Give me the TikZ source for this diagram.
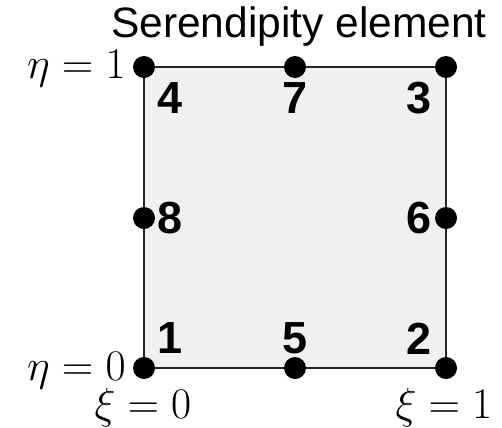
\documentclass[tikz,border=0pt]{standalone}
\usepackage[no-math]{fontspec}
\newfontfamily\helv{Liberation Sans}
\usetikzlibrary{positioning, backgrounds}

\begin{document}
\begin{tikzpicture}[
  x=0.02cm, y=-0.02cm,
  dot/.style={circle, fill=black, inner sep=0pt, minimum size=0.44cm},
  num/.style={font=\helv\bfseries\fontsize{25.6}{30}\selectfont, inner sep=0pt},
  coordlbl/.style={font=\fontsize{26}{30}\selectfont, inner sep=0pt},
  ttl/.style={font=\helv\fontsize{24.2}{29}\selectfont, inner sep=0pt},
  elem/.style={fill=black!6, draw=black!85, line width=0.6pt},
  node distance=5mm, on grid,
]
\useasboundingbox (0,0) rectangle (502,427);

% --- Title ---
\node[ttl, anchor=base] (title) at (299,37) {Serendipity element};

% --- Corner and mid-side nodes ---
\node[dot] (n1) at (144,368) {};
\node[dot] (n2) at (446,368) {};
\node[dot] (n3) at (446,67)  {};
\node[dot] (n4) at (144,67)  {};
\node[dot] (n5) at (295,368) {};
\node[dot] (n6) at (446,218) {};
\node[dot] (n7) at (295,67)  {};
\node[dot] (n8) at (144,218) {};

% --- Element square (behind the dots) ---
\begin{scope}[on background layer]
  \filldraw[elem] (n1.center) -- (n2.center) -- (n3.center) -- (n4.center) -- cycle;
\end{scope}

% --- Node numbers ---
\node[num, above right=0.59cm and 0.52cm of n1] (l1) {1};
\node[num, above=0.59cm of n5]                  (l5) {5};
\node[num, above left=0.59cm and 0.54cm of n2]  (l2) {2};
\node[num, right=0.52cm of n8]                  (l8) {8};
\node[num, left=0.54cm of n6]                   (l6) {6};
\node[num, below right=0.63cm and 0.53cm of n4] (l4) {4};
\node[num, below=0.63cm of n7]                  (l7) {7};
\node[num, below left=0.63cm and 0.54cm of n3]  (l3) {3};

% --- Local coordinates ---
\node[coordlbl, anchor=base east] (eta1) at (126,78)  {$\eta=1$};
\node[coordlbl, anchor=base east] (eta0) at (126,380) {$\eta=0$};
\node[coordlbl, anchor=base] (xi0) at (143,418) {$\xi=0$};
\node[coordlbl, anchor=base] (xi1) at (444,418) {$\xi=1$};

\end{tikzpicture}
\end{document}
